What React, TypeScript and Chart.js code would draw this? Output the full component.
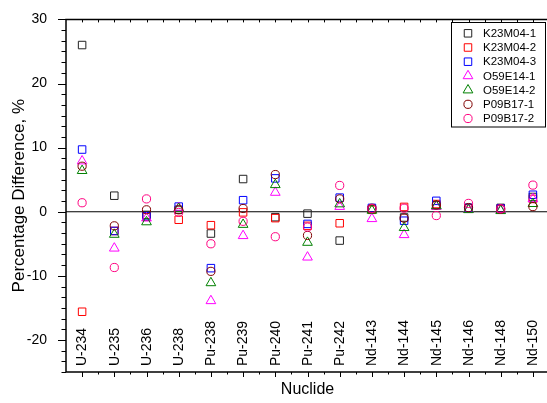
import React, { useEffect, useRef } from 'react';
import { Chart, registerables } from 'chart.js';

Chart.register(...registerables);

const categories = ['U-234', 'U-235', 'U-236', 'U-238', 'Pu-238', 'Pu-239', 'Pu-240', 'Pu-241', 'Pu-242', 'Nd-143', 'Nd-144', 'Nd-145', 'Nd-146', 'Nd-148', 'Nd-150'];
const yTickValues = [-20, -10, 0, 10, 20, 30];
const seriesNames = ['K23M04-1', 'K23M04-2', 'K23M04-3', 'O59E14-1', 'O59E14-2', 'P09B17-1', 'P09B17-2'];

const k23m04_1 = [26.0, 2.5, -0.5, 0.3, -3.4, 5.1, -0.85, -0.3, -4.5, 0.4, -0.9, 1.0, 0.6, 0.6, 2.3];
const k23m04_2 = [-15.6, -3.0, -0.8, -1.25, -2.1, -0.1, -1.0, -2.2, -1.8, 0.3, 0.75, 1.2, 0.5, 0.5, 2.0];
const k23m04_3 = [9.7, -3.0, -0.7, 0.8, -8.8, 1.8, 5.2, -1.9, 2.2, 0.6, -1.4, 1.7, 0.6, 0.5, 2.65];
const o59e14_1 = [7.9, -5.7, -1.0, 0.6, -13.9, -3.75, 3.0, -7.1, 0.8, -1.1, -3.6, 0.8, 0.35, 0.3, 2.0];
const o59e14_2 = [6.4, -3.55, -1.6, 0.5, -11.1, -2.0, 4.2, -4.8, 1.2, 0.2, -2.5, 0.9, 0.3, 0.15, 1.25];
const p09b17_1 = [7.1, -2.2, 0.3, 0.3, -9.3, 0.5, 5.8, -3.7, 2.0, 0.55, -1.0, 1.05, 0.65, 0.4, 0.8];
const p09b17_2 = [1.4, -8.7, 2.0, -0.1, -5.0, -1.5, -3.9, -2.4, 4.1, 0.5, 0.55, -0.6, 1.3, 0.45, 4.15];

const seriesValues = [k23m04_1, k23m04_2, k23m04_3, o59e14_1, o59e14_2, p09b17_1, p09b17_2];
const seriesColors = ['#222222', '#FF0000', '#0000FF', '#FF00FF', '#008000', '#800000', '#FF0080'];
const seriesShapes = ['rect', 'rect', 'rect', 'triangle', 'triangle', 'circle', 'circle'];

const FONT = "'Liberation Sans', Arial, sans-serif";

function markerRadius(shape: string) {
  if (shape === 'rect') return 5.3;
  if (shape === 'triangle') return 5.6;
  return 4.1;
}

function drawMarker(ctx: CanvasRenderingContext2D, shape: string, x: number, y: number, color: string) {
  const r = markerRadius(shape);
  ctx.save();
  ctx.strokeStyle = color;
  ctx.lineWidth = 1;
  ctx.beginPath();
  if (shape === 'rect') {
    const s = Math.SQRT1_2 * r;
    ctx.rect(x - s, y - s, 2 * s, 2 * s);
  } else if (shape === 'triangle') {
    ctx.moveTo(x, y - r);
    ctx.lineTo(x + r * Math.sin((2 * Math.PI) / 3), y - r * Math.cos((2 * Math.PI) / 3));
    ctx.lineTo(x + r * Math.sin((4 * Math.PI) / 3), y - r * Math.cos((4 * Math.PI) / 3));
    ctx.closePath();
  } else {
    ctx.arc(x, y, r, 0, Math.PI * 2);
  }
  ctx.stroke();
  ctx.restore();
}

const framePlugin = {
  id: 'framePlugin',
  beforeDatasetsDraw(chart: any) {
    const { ctx, chartArea } = chart;
    const y = chart.scales.y;
    const x = chart.scales.x;
    const y0 = y.getPixelForValue(0);
    ctx.save();
    ctx.strokeStyle = '#000';
    ctx.lineWidth = 1.2;
    ctx.beginPath();
    ctx.moveTo(chartArea.left, y0);
    ctx.lineTo(chartArea.right, y0);
    ctx.stroke();
    // category labels inside plot
    ctx.fillStyle = '#000';
    ctx.font = `14px ${FONT}`;
    ctx.textAlign = 'left';
    ctx.textBaseline = 'middle';
    categories.forEach((c, i) => {
      const px = x.getPixelForValue(i);
      ctx.save();
      ctx.translate(px + 0.5, chartArea.bottom - 6);
      ctx.rotate(-Math.PI / 2);
      ctx.fillText(c, 0, 0);
      ctx.restore();
    });
    ctx.restore();
  },
  afterDraw(chart: any) {
    const { ctx, chartArea } = chart;
    const { left, right, top, bottom } = chartArea;
    const y = chart.scales.y;
    const x = chart.scales.x;
    ctx.save();
    ctx.strokeStyle = '#000';
    ctx.lineWidth = 1.5;
    ctx.beginPath();
    ctx.rect(left, top, right - left, bottom - top);
    ctx.stroke();
    ctx.lineWidth = 1;
    ctx.beginPath();
    // left ticks
    const yMin = y.min;
    const yMax = y.max;
    for (let k = 0; ; k++) {
      const v = yMin + (k * 10) / 6;
      if (v > yMax + 1e-6) break;
      const py = Math.round(y.getPixelForValue(v)) + 0.5;
      const isMajor = Math.abs(v / 10 - Math.round(v / 10)) < 1e-6;
      ctx.moveTo(left - (isMajor ? 8 : 4.5), py);
      ctx.lineTo(left, py);
    }
    // bottom and top ticks
    for (let i = 0; i < categories.length; i++) {
      const px = Math.round(x.getPixelForValue(i)) + 0.5;
      ctx.moveTo(px, bottom);
      ctx.lineTo(px, bottom + 5);
      ctx.moveTo(px, top);
      ctx.lineTo(px, top + 3);
      const pm = Math.round(x.getPixelForValue(i + 0.5)) + 0.5;
      ctx.moveTo(pm, bottom);
      ctx.lineTo(pm, bottom + 2.5);
      ctx.moveTo(pm, top);
      ctx.lineTo(pm, top + 3);
    }
    ctx.stroke();
    // legend
    const lx0 = 451.5, ly0 = 22.5, lw = 94, lh = 104.5;
    ctx.fillStyle = '#fff';
    ctx.fillRect(lx0, ly0, lw, lh);
    ctx.strokeStyle = '#000';
    ctx.lineWidth = 1;
    ctx.strokeRect(lx0, ly0, lw, lh);
    ctx.font = `11.5px ${FONT}`;
    ctx.fillStyle = '#000';
    ctx.textAlign = 'left';
    ctx.textBaseline = 'middle';
    seriesNames.forEach((name, i) => {
      const ry = 33.3 + i * 14.2;
      drawMarker(ctx, seriesShapes[i], 468, ry, seriesColors[i]);
      ctx.fillText(name, 483, ry + 0.5);
    });
    ctx.restore();
  },
};

export default function App() {
  const canvasRef = useRef<HTMLCanvasElement | null>(null);

  useEffect(() => {
    if (!canvasRef.current) return;
    const datasets = seriesNames.map((name, i) => ({
      label: name,
      data: seriesValues[i],
      showLine: false,
      borderColor: seriesColors[i],
      backgroundColor: 'rgba(0,0,0,0)',
      pointBackgroundColor: 'rgba(0,0,0,0)',
      pointBorderColor: seriesColors[i],
      pointBorderWidth: 1,
      pointStyle: seriesShapes[i],
      pointRadius: markerRadius(seriesShapes[i]),
      pointHoverRadius: markerRadius(seriesShapes[i]),
      order: seriesNames.length - i,
    }));
    const chart = new Chart(canvasRef.current, {
      type: 'line',
      data: { labels: categories, datasets },
      options: {
        responsive: false,
        animation: false,
        events: [],
        layout: { padding: { top: 16, right: 21, left: 0, bottom: 0 } },
        plugins: { legend: { display: false }, tooltip: { enabled: false } },
        scales: {
          x: {
            type: 'category',
            offset: true,
            grid: { display: false },
            border: { display: false },
            ticks: { display: false },
            title: { display: true, text: 'Nuclide', color: '#000', font: { size: 16, family: FONT }, padding: { top: 0, bottom: 4 } },
            afterFit: (s: any) => { s.height = 31; },
          },
          y: {
            min: -25,
            max: 30,
            grid: { display: false },
            border: { display: false },
            ticks: { color: '#000', font: { size: 14, family: FONT }, padding: 11 },
            afterBuildTicks: (s: any) => { s.ticks = yTickValues.map((v) => ({ value: v })); },
            title: { display: true, text: 'Percentage Difference, %', color: '#000', font: { size: 17, family: FONT }, padding: { top: 9, bottom: 0 } },
            afterFit: (s: any) => { s.width = 66; },
          },
        },
      },
      plugins: [framePlugin],
    });
    return () => chart.destroy();
  }, []);

  return (
    <div style={{ position: 'fixed', left: 0, top: 0, width: 547, height: 403, overflow: 'hidden', background: '#fff' }}>
      <canvas ref={canvasRef} width={570} height={403} style={{ display: 'block' }} />
    </div>
  );
}
